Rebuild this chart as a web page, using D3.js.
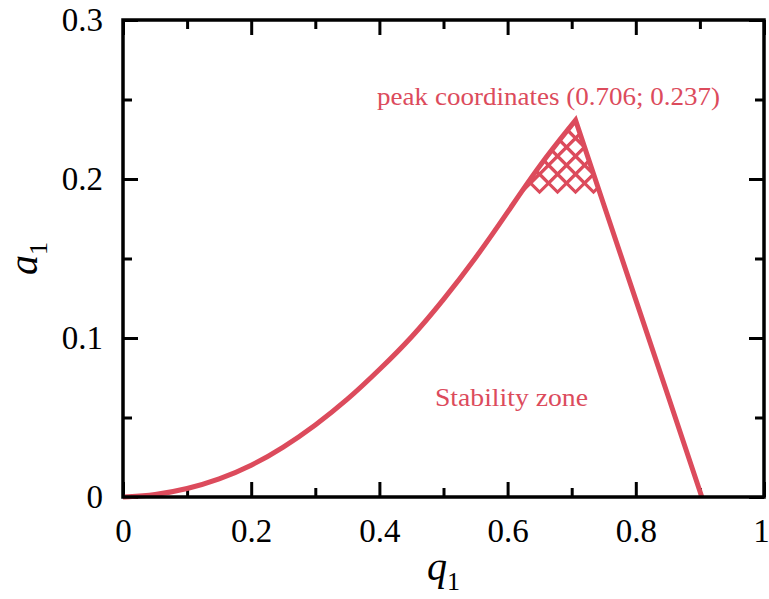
<!DOCTYPE html>
<html>
<head>
<meta charset="utf-8">
<script src="https://cdn.jsdelivr.net/npm/d3@7"></script>
<style>
  body { margin: 0; background: #fff; }
  text { font-family: "Liberation Serif", "Times New Roman", serif; }
</style>
</head>
<body>
<svg width="769" height="599"></svg>
<script>
// rising branch of the boundary
var leftQ = [0, 0.05, 0.1, 0.15, 0.2, 0.25, 0.3, 0.35, 0.4, 0.45, 0.5, 0.55, 0.6, 0.65, 0.706];
var leftA = [0, 0.0012, 0.005, 0.011, 0.0195, 0.031, 0.045, 0.061, 0.08, 0.1, 0.124, 0.15, 0.179, 0.209, 0.237];
// falling branch
var rightQ = [0.706, 0.75, 0.8, 0.85, 0.903];
var rightA = [0.237, 0.184, 0.124, 0.064, 0];

var peak = [0.706, 0.237];
var hatchFloor = 0.19;

var xMajor = [0, 0.2, 0.4, 0.6, 0.8, 1],
    xMinor = [0.1, 0.3, 0.5, 0.7, 0.9],
    xLabels = ['0', '0.2', '0.4', '0.6', '0.8', '1'];
var yMajor = [0, 0.1, 0.2, 0.3],
    yMinor = [0.05, 0.15, 0.25],
    yLabels = ['0', '0.1', '0.2', '0.3'];

var red = '#dc4b5c';

var svg = d3.select('svg'),
    margin = {top: 20, right: 5, bottom: 102, left: 123},
    width  = +svg.attr('width') - margin.left - margin.right,
    height = +svg.attr('height') - margin.top - margin.bottom,
    x = d3.scaleLinear().domain([0, 1]).range([0, width]),
    y = d3.scaleLinear().domain([0, 0.3]).range([height, 0]),
    g = svg.append('g')
      .attr('transform', 'translate(' + margin.left + ',' + margin.top + ')');

//tick axes, all ticks pointing inward
function styleAxis(sel) {
  sel.select('.domain').remove();
  sel.selectAll('line').attr('stroke', '#000').attr('stroke-width', 3);
  sel.selectAll('text').attr('fill', '#000').style('font-size', '33px')
    .style('font-family', '"Liberation Serif", serif');
}
g.append('g').attr('transform', 'translate(0,' + height + ')')
  .call(d3.axisBottom(x).tickValues(xMajor).tickSize(-15).tickPadding(22)
    .tickFormat(function(d, i) { return xLabels[i]; }))
  .call(styleAxis)
  //last label sits at the page edge
  .selectAll('text').filter(function(d) { return d === 1; }).attr('dx', -3);
g.append('g').attr('transform', 'translate(0,' + height + ')')
  .call(d3.axisBottom(x).tickValues(xMinor).tickSize(-9).tickFormat(''))
  .call(styleAxis);
g.append('g')
  .call(d3.axisTop(x).tickValues(xMajor).tickSize(-15).tickFormat(''))
  .call(styleAxis);
g.append('g')
  .call(d3.axisTop(x).tickValues(xMinor).tickSize(-9).tickFormat(''))
  .call(styleAxis);
g.append('g')
  .call(d3.axisLeft(y).tickValues(yMajor).tickSize(-15).tickPadding(20)
    .tickFormat(function(d, i) { return yLabels[i]; }))
  .call(styleAxis);
g.append('g')
  .call(d3.axisLeft(y).tickValues(yMinor).tickSize(-9).tickFormat(''))
  .call(styleAxis);
g.append('g').attr('transform', 'translate(' + width + ',0)')
  .call(d3.axisRight(y).tickValues(yMajor).tickSize(-15).tickFormat(''))
  .call(styleAxis);
g.append('g').attr('transform', 'translate(' + width + ',0)')
  .call(d3.axisRight(y).tickValues(yMinor).tickSize(-9).tickFormat(''))
  .call(styleAxis);

//boundary: smooth rising branch, straight falling branch
var leftPts = leftQ.map(function(q, i) { return [q, leftA[i]]; }),
    rightPts = rightQ.map(function(q, i) { return [q, rightA[i]]; });

var smooth = d3.line().curve(d3.curveBasis)
      .x(function(d) { return x(d[0]); }).y(function(d) { return y(d[1]); }),
    straight = d3.line()
      .x(function(d) { return x(d[0]); }).y(function(d) { return y(d[1]); });

var boundary = smooth(leftPts) + 'L' + straight(rightPts.slice(1)).slice(1);

//crosshatch near the peak, clipped to the zone
svg.append('defs').append('clipPath').attr('id', 'zone')
  .append('path').attr('d', boundary + 'Z');

var h = 9,
    px = x(peak[0]), py = y(peak[1]), yFloor = y(hatchFloor),
    diamonds = [];
for (var n = 0; n < 20; n++) {
  for (var m = -n - 1; m <= n + 1; m++) {
    if ((m + n) % 2 !== 0) continue;
    var cx = px + m * h, cy = py + h + n * h;
    if (cy + h <= yFloor + 1) diamonds.push([cx, cy]);
  }
}
g.append('g').attr('clip-path', 'url(#zone)')
  .selectAll('path').data(diamonds).enter().append('path')
    .attr('d', function(d) {
      return 'M' + d[0] + ',' + (d[1] - h) + 'L' + (d[0] + h) + ',' + d[1] +
             'L' + d[0] + ',' + (d[1] + h) + 'L' + (d[0] - h) + ',' + d[1] + 'Z';
    })
    .attr('fill', 'none').attr('stroke', red).attr('stroke-width', 3);

g.append('path')
  .attr('d', boundary)
  .attr('fill', 'none')
  .attr('stroke', red)
  .attr('stroke-width', 5)
  .attr('stroke-linejoin', 'miter');

//frame
g.append('rect').attr('width', width).attr('height', height)
  .attr('fill', 'none').attr('stroke', '#000').attr('stroke-width', 3.5);

//annotations
g.append('text')
  .attr('x', x(0.664)).attr('y', y(0.2465))
  .attr('text-anchor', 'middle').attr('fill', red)
  .style('font-size', '25px')
  .attr('textLength', 343).attr('lengthAdjust', 'spacingAndGlyphs')
  .text('peak coordinates (' + peak[0] + '; ' + peak[1] + ')');
g.append('text')
  .attr('x', x(0.606)).attr('y', y(0.0572))
  .attr('text-anchor', 'middle').attr('fill', red)
  .style('font-size', '25px')
  .attr('textLength', 153).attr('lengthAdjust', 'spacingAndGlyphs')
  .text('Stability zone');

//axis titles
var xt = svg.append('text')
  .attr('x', margin.left + width / 2).attr('y', 580)
  .attr('text-anchor', 'middle').style('font-size', '40px');
xt.append('tspan').style('font-style', 'italic').text('q');
xt.append('tspan').attr('dy', 10).style('font-size', '26px').text('1');

var yt = svg.append('text')
  .attr('transform', 'translate(37,' + (margin.top + height / 2) + ') rotate(-90)')
  .attr('text-anchor', 'middle').style('font-size', '40px');
yt.append('tspan').style('font-style', 'italic').text('a');
yt.append('tspan').attr('dy', 10).style('font-size', '26px').text('1');
</script>
</body>
</html>
